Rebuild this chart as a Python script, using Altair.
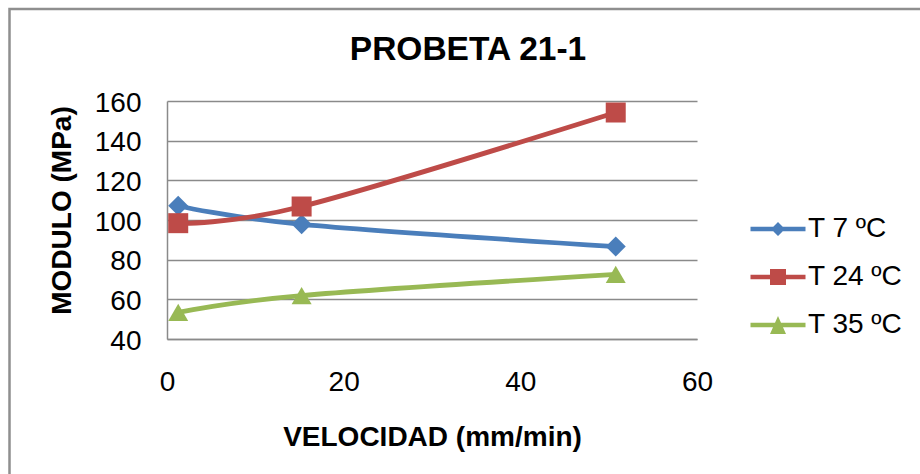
import altair as alt
import pandas as pd

# ---- data ----
velocidad = [1.27, 15.24, 50.8]
t7 = [107.2, 97.8, 86.6]
t24 = [98.4, 106.8, 154.2]
t35 = [53.4, 61.9, 72.6]
series_names = ["T 7 ºC", "T 24 ºC", "T 35 ºC"]
x_ticks = [0, 20, 40, 60]
y_ticks = [40, 60, 80, 100, 120, 140, 160]

# ---- styling ----
colors = ["#4a7ebb", "#be4b48", "#98b954"]
marker_shapes = ["diamond", "square", "triangle-up"]
bar = "M-2.75,-0.22H2.75V0.22H-2.75Z "
legend_paths = [
    bar + "M-0.7,0L0,-0.7L0.7,0L0,0.7Z",
    bar + "M-0.8,-0.8H0.8V0.8H-0.8Z",
    bar + "M0,-0.9L0.8,0.9H-0.8Z",
]
FONT = "Liberation Sans"
GRID = "#8a8a8a"

rows = []
for name, vals in zip(series_names, [t7, t24, t35]):
    for xv, yv in zip(velocidad, vals):
        rows.append({"serie": name, "velocidad": xv, "modulo": yv})
df = pd.DataFrame(rows)

x_enc = alt.X(
    "velocidad:Q",
    scale=alt.Scale(domain=[0, 60], nice=False, zero=False),
    axis=alt.Axis(values=x_ticks, title="VELOCIDAD (mm/min)", grid=False,
                  labelFlush=False, labelPadding=29, titleY=106,
                  titleBaseline="alphabetic"),
)
y_enc = alt.Y(
    "modulo:Q",
    scale=alt.Scale(domain=[40, 160], nice=False, zero=False),
    axis=alt.Axis(values=y_ticks, title="MODULO (MPa)", grid=True,
                  labelFlush=False, labelPadding=26, labelOffset=2,
                  titleX=-97, titleY=109, titleBaseline="alphabetic",
                  titleAngle=270),
)

base = alt.Chart(df)

lines = base.mark_line(interpolate="cardinal", strokeWidth=4.8).encode(
    x=x_enc, y=y_enc,
    color=alt.Color("serie:N", scale=alt.Scale(domain=series_names, range=colors), legend=None),
)

points = base.mark_point(filled=True, opacity=1, size=400, strokeWidth=0).encode(
    x=x_enc, y=y_enc,
    color=alt.Color("serie:N", scale=alt.Scale(domain=series_names, range=colors), legend=None),
    shape=alt.Shape("serie:N", scale=alt.Scale(domain=series_names, range=marker_shapes), legend=None),
)

leg = alt.Legend(
    title=None, orient="none", legendX=597, legendY=114,
    labelFont=FONT, labelFontSize=28, labelColor="black",
    symbolSize=400, symbolStrokeWidth=0, symbolOpacity=1,
    labelOffset=16, rowPadding=20, padding=0,
)
legend_layer = base.transform_filter("false").mark_point(
    filled=True, opacity=1, size=400, strokeWidth=0
).encode(
    x=x_enc, y=y_enc,
    color=alt.Color("serie:N", scale=alt.Scale(domain=series_names, range=colors), legend=leg),
    shape=alt.Shape("serie:N", scale=alt.Scale(domain=series_names, range=legend_paths), legend=leg),
)

border = alt.Chart(alt.Data(values=[{"a": 1}])).mark_rect(
    fill="white", fillOpacity=0, stroke="#8f8f8f", strokeWidth=2.5
).encode(
    x=alt.value(-157.5), x2=alt.value(770), y=alt.value(-92), y2=alt.value(390)
)

chart = (
    alt.layer(border, lines, points, legend_layer)
    .resolve_scale(color="independent", shape="independent")
    .properties(
        width=530, height=238,
        padding={"left": 167, "top": 101, "right": 223, "bottom": 135},
        autosize=alt.AutoSizeParams(type="none"),
        title=alt.TitleParams(
            text="PROBETA 21-1", font=FONT, fontSize=33.5, fontWeight="bold",
            color="black", anchor="middle", dx=36, dy=116,
            baseline="alphabetic", offset=30,
        ),
        background="white",
    )
    .configure_view(stroke="transparent")
    .configure_axis(
        labelFont=FONT, labelFontSize=28, labelColor="black",
        titleFont=FONT, titleFontSize=28, titleFontWeight="bold", titleColor="black",
        domainColor=GRID, domainWidth=1.5, ticks=False, tickSize=0,
        gridColor=GRID, gridWidth=1.5,
    )
)

chart.save("out.html", embed_options={"renderer": "svg", "actions": False})
